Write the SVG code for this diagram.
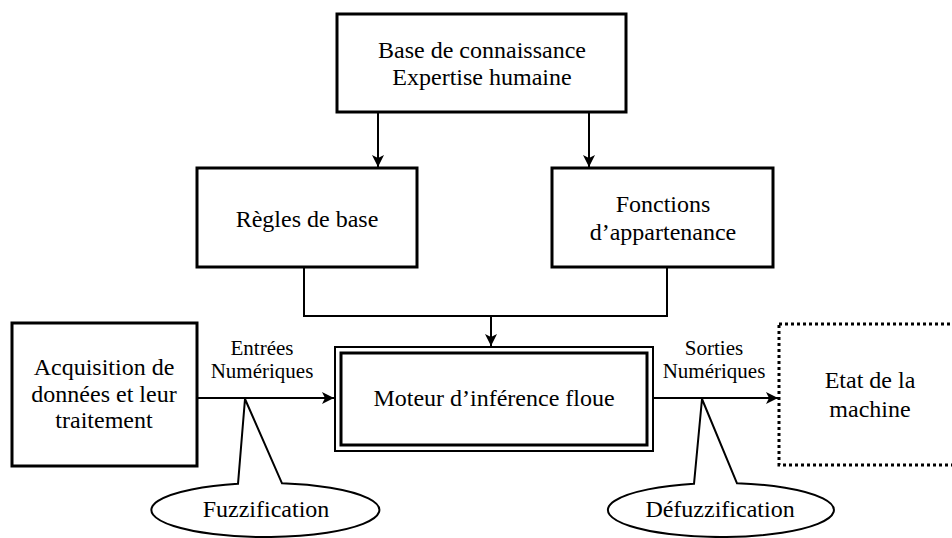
<svg xmlns="http://www.w3.org/2000/svg" width="952" height="538" viewBox="0 0 952 538">
<style>
.box{fill:#fff;stroke:#000;stroke-width:3}
.t{font-family:"Liberation Serif","Times New Roman",serif;font-size:24px;fill:#000;text-anchor:middle}
.s{font-family:"Liberation Serif","Times New Roman",serif;font-size:21px;fill:#000;text-anchor:middle}
.c{fill:none;stroke:#000;stroke-width:2}
.call{fill:#fff;stroke:#000;stroke-width:2}
</style>
<defs>
<marker id="ah" markerUnits="userSpaceOnUse" markerWidth="14" markerHeight="14" refX="12" refY="6" orient="auto">
<path d="M0,0 L12,6 L0,12 L3,6 z" fill="#000"/>
</marker>
</defs>
<rect width="952" height="538" fill="#fff"/>
<g id="connectors">
<path class="c" d="M378,112 V167" marker-end="url(#ah)"/>
<path class="c" d="M589,112 V167" marker-end="url(#ah)"/>
<path class="c" d="M304,267 V316 H667 V267"/>
<path class="c" d="M491,316 V346" marker-end="url(#ah)"/>
<path class="c" d="M197,398 H334" marker-end="url(#ah)"/>
<path class="c" d="M653,398 H778" marker-end="url(#ah)"/>
</g>
<g id="base">
<rect class="box" x="337" y="14" width="289" height="98"/>
<text class="t" x="482" y="58">Base de connaissance</text>
<text class="t" x="482" y="85">Expertise humaine</text>
</g>
<g id="regles">
<rect class="box" x="197" y="168" width="220" height="99"/>
<text class="t" x="307" y="227">Règles de base</text>
</g>
<g id="fonctions">
<rect class="box" x="552" y="168" width="221" height="99"/>
<text class="t" x="663" y="212">Fonctions</text>
<text class="t" x="663" y="240">d’appartenance</text>
</g>
<g id="acquisition">
<rect class="box" x="12" y="323" width="185" height="143"/>
<text class="t" x="104" y="375">Acquisition de</text>
<text class="t" x="104" y="401.5">données et leur</text>
<text class="t" x="104" y="428">traitement</text>
</g>
<g id="moteur">
<rect x="335" y="347" width="318" height="104" fill="#fff" stroke="#000" stroke-width="2"/>
<rect x="341" y="353" width="306" height="92" fill="none" stroke="#000" stroke-width="3"/>
<text class="t" x="494" y="406">Moteur d’inférence floue</text>
</g>
<g id="etat">
<rect x="779" y="324" width="185" height="141" fill="#fff" stroke="#000" stroke-width="3" stroke-dasharray="3,3"/>
<text class="t" x="870" y="388">Etat de la</text>
<text class="t" x="870" y="417">machine</text>
</g>
<g id="label-entrees">
<text class="s" x="262" y="355">Entrées</text>
<text class="s" x="262" y="378">Numériques</text>
</g>
<g id="label-sorties">
<text class="s" x="714" y="355">Sorties</text>
<text class="s" x="714" y="378">Numériques</text>
</g>
<g id="fuzzification">
<path class="call" d="M238,483.8 L245,399 L282,483.3 A114,27 0 1 1 238,483.8 Z"/>
<text class="t" x="266" y="517">Fuzzification</text>
</g>
<g id="defuzzification">
<path class="call" d="M694,483.8 L702,399 L737,483.3 A113,27 0 1 1 694,483.8 Z"/>
<text class="t" x="720" y="517">Défuzzification</text>
</g>
</svg>
